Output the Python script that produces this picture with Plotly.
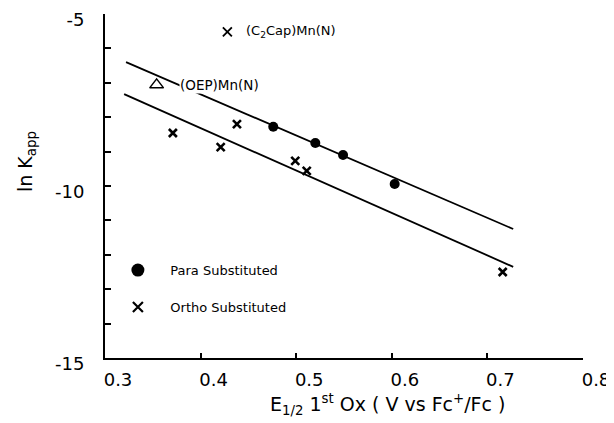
import plotly.graph_objects as go

# ---- data ----
para_x = [0.476, 0.520, 0.549, 0.603]
para_y = [-8.28, -8.75, -9.10, -9.94]

ortho_x = [0.371, 0.421, 0.438, 0.499, 0.511, 0.716]
ortho_y = [-8.46, -8.87, -8.20, -9.27, -9.56, -12.50]

oep_x = [0.354]
oep_y = [-7.06]

c2cap_x = [0.428]
c2cap_y = [-5.52]

upper_line_x = [0.322, 0.727]
upper_line_y = [-6.40, -11.25]
lower_line_x = [0.320, 0.727]
lower_line_y = [-7.33, -12.35]

x_tickvals = [0.3, 0.4, 0.5, 0.6, 0.7, 0.8]
x_ticktext = ["0.3", "0.4", "0.5", "0.6", "0.7", "0.8"]
y_tickvals = [-15, -14, -13, -12, -11, -10, -9, -8, -7, -6, -5]
y_ticktext = ["-15", "", "", "", "", "-10", "", "", "", "", "-5"]

FONT = "DejaVu Sans"

fig = go.Figure()

fig.add_trace(go.Scatter(x=upper_line_x, y=upper_line_y, mode="lines",
                         line=dict(color="black", width=1.8), showlegend=False))
fig.add_trace(go.Scatter(x=lower_line_x, y=lower_line_y, mode="lines",
                         line=dict(color="black", width=1.8), showlegend=False))

fig.add_trace(go.Scatter(x=para_x, y=para_y, mode="markers",
                         marker=dict(symbol="circle", size=10, color="black"),
                         showlegend=False))
fig.add_trace(go.Scatter(x=ortho_x, y=ortho_y, mode="markers",
                         marker=dict(symbol="x-thin-open", size=8, color="black",
                                     line=dict(color="black", width=2.6)),
                         showlegend=False))
fig.add_trace(go.Scatter(x=oep_x, y=oep_y, mode="markers",
                         marker=dict(symbol="triangle-up-open", size=12, color="black",
                                     line=dict(color="black", width=1.5)),
                         showlegend=False))
fig.add_trace(go.Scatter(x=c2cap_x, y=c2cap_y, mode="markers",
                         marker=dict(symbol="x-thin-open", size=9, color="black",
                                     line=dict(color="black", width=1.8)),
                         showlegend=False))

# legend keys
fig.add_trace(go.Scatter(x=[None], y=[None], mode="markers",
                         name="\u00a0\u00a0\u00a0Para Substituted",
                         legendgroup="p",
                         marker=dict(symbol="circle", size=13, color="black")))
fig.add_trace(go.Scatter(x=[None], y=[None], mode="markers",
                         name="\u00a0\u00a0\u00a0Ortho Substituted",
                         legendgroup="o",
                         marker=dict(symbol="x-thin-open", size=10, color="black",
                                     line=dict(color="black", width=2.2))))

annotations = [
    dict(x=c2cap_x[0], y=c2cap_y[0], xref="x", yref="y",
         text="(C<sub>2</sub>Cap)Mn(N)", showarrow=False, xanchor="left",
         xshift=17, font=dict(family=FONT, size=13, color="black")),
    dict(x=oep_x[0], y=oep_y[0], xref="x", yref="y",
         text="(OEP)Mn(N)", showarrow=False, xanchor="left", xshift=22,
         bgcolor="white", borderpad=0,
         font=dict(family=FONT, size=13.5, color="black")),
    dict(x=0.595, y=-0.134, xref="x", yref="paper",
         text="E<sub>1/2</sub> 1<sup>st</sup> Ox ( V vs Fc<sup>+</sup>/Fc )",
         showarrow=False, xanchor="center", yanchor="middle",
         font=dict(family=FONT, size=19, color="black")),
    dict(x=-0.163, y=0.57, xref="paper", yref="paper",
         text="ln K<sub>app</sub>", textangle=-90, showarrow=False,
         xanchor="center", yanchor="middle",
         font=dict(family=FONT, size=19, color="black")),
]

# page body has an 8px default margin, so the figure is offset by 8px
fig.update_layout(
    width=606, height=415,
    margin=dict(l=97, r=31, t=6, b=65, autoexpand=False),
    paper_bgcolor="white", plot_bgcolor="white",
    font=dict(family=FONT, size=18, color="black"),
    annotations=annotations,
    showlegend=True,
    legend=dict(x=0.027, y=0.299, xanchor="left", yanchor="top",
                bgcolor="rgba(0,0,0,0)", tracegroupgap=17,
                font=dict(family=FONT, size=13, color="black")),
    xaxis=dict(range=[0.3, 0.8], tickmode="array", tickvals=x_tickvals,
               ticktext=x_ticktext, ticks="inside", ticklen=5, tickwidth=1.5,
               tickcolor="black", showline=True, linecolor="black", linewidth=2,
               showgrid=False, zeroline=False, ticklabelshift=13,
               ticklabelstandoff=4, automargin=False, ticklabeloverflow="allow"),
    yaxis=dict(range=[-15, -5], tickmode="array", tickvals=y_tickvals,
               ticktext=y_ticktext, ticks="inside", ticklen=6, tickwidth=1.5,
               tickcolor="black", showline=True, linecolor="black", linewidth=2,
               showgrid=False, zeroline=False, ticklabelstandoff=15,
               ticklabelshift=6,
               automargin=False, ticklabeloverflow="allow"),
)

fig.write_html("out.html")
